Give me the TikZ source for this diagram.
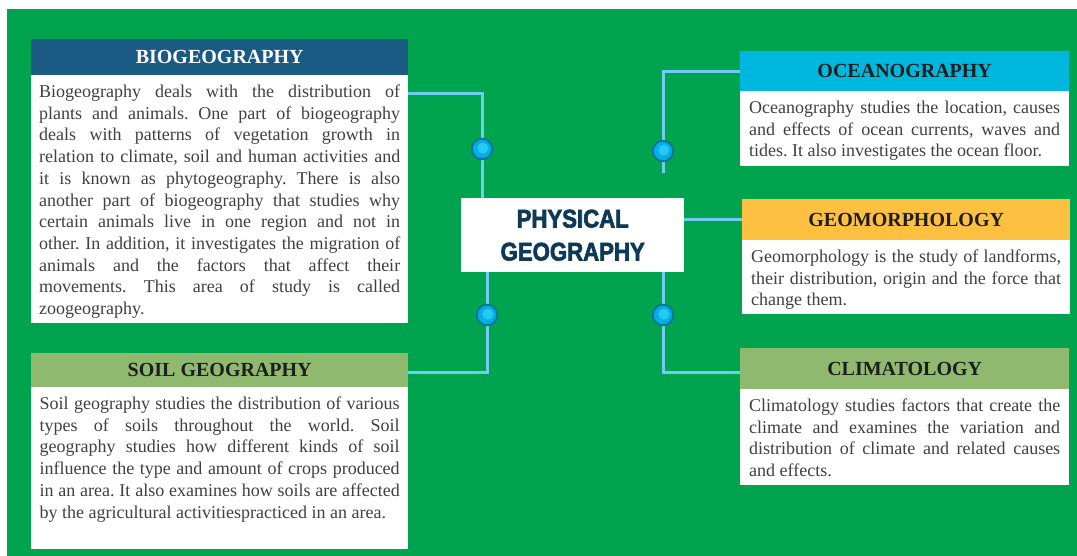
\documentclass[tikz,border=0pt]{standalone}
\usepackage{fontspec}
\setmainfont{Liberation Serif}
\newfontfamily\ctrfont{Liberation Sans}[UprightFont={* Bold}, FakeStretch=0.87, FakeBold=2.5]
\definecolor{bggreen}{RGB}{0,163,78}
\definecolor{bioc}{RGB}{27,90,130}
\definecolor{ocec}{RGB}{0,183,222}
\definecolor{geoc}{RGB}{253,192,64}
\definecolor{soilc}{RGB}{143,185,110}
\definecolor{connc}{RGB}{110,205,240}
\definecolor{txtc}{RGB}{64,64,64}
\definecolor{hdrtxt}{RGB}{30,30,30}
\definecolor{ctrtxt}{RGB}{14,58,88}
\definecolor{dotrim}{RGB}{20,110,160}
\definecolor{dotfill}{RGB}{0,176,226}
\definecolor{dotin}{RGB}{40,200,245}
\frenchspacing
\newcommand\jline[1]{\makebox[\linewidth][s]{#1}\\}
\newcommand\btext[3]{\parbox[t][#1][t]{#2}{\frenchspacing\fontsize{18}{21.7}\selectfont #3}}
\begin{document}
\begin{tikzpicture}[x=1pt,y=-1pt,
  hdr/.style={anchor=north west, inner sep=0pt, text=hdrtxt,
    font=\bfseries\fontsize{20}{24}\selectfont},
  bodybox/.style={anchor=north west, fill=white, text=txtc, inner xsep=8.5pt, inner ysep=9.7pt},
  ctrbox/.style={anchor=north west, fill=white, inner sep=0pt, align=center, text=ctrtxt,
    font=\ctrfont\fontsize{25.5}{33}\selectfont},
  conn/.style={draw=connc, line width=3pt},
  dot/.style={circle, inner sep=0pt, minimum size=20.5pt, fill=dotfill, draw=dotrim, line width=1.8pt,
    path picture={\fill[dotin] ([shift={(0.8pt,0.8pt)}]path picture bounding box.center) circle (5.5pt);}}
]
\useasboundingbox (0,0) rectangle (1077,556);
\fill[white] (0,0) rectangle (1077,556);
\fill[bggreen] (7,9) rectangle (1077,556);

% headers
\node[hdr, fill=bioc, text=white, minimum width=377pt, minimum height=36pt] (bioH) at (31,39) {BIOGEOGRAPHY};
\node[hdr, fill=soilc, minimum width=377pt, minimum height=34pt] (soilH) at (31,353) {SOIL GEOGRAPHY};
\node[hdr, fill=ocec, minimum width=329pt, minimum height=40pt] (oceH) at (740,51) {OCEANOGRAPHY};
\node[hdr, fill=geoc, minimum width=328pt, minimum height=41pt] (geoH) at (742,199) {GEOMORPHOLOGY};
\node[hdr, fill=soilc, minimum width=329pt, minimum height=41pt] (climH) at (740,348) {CLIMATOLOGY};

% bodies
\node[bodybox, inner xsep=8pt] (bioB) at (31,75) {\btext{228.6pt}{361pt}{%
\jline{Biogeography deals with the distribution of}
\jline{plants and animals. One part of biogeography}
\jline{deals with patterns of vegetation growth in}
\jline{relation to climate, soil and human activities and}
\jline{it is known as phytogeography. There is also}
\jline{another part of biogeography that studies why}
\jline{certain animals live in one region and not in}
\jline{other. In addition, it investigates the migration of}
\jline{animals and the factors that affect their}
\jline{movements. This area of study is called}
zoogeography.}};
\node[bodybox] (soilB) at (31,387) {\btext{142.6pt}{360pt}{%
\jline{Soil geography studies the distribution of various}
\jline{types of soils throughout the world. Soil}
\jline{geography studies how different kinds of soil}
\jline{influence the type and amount of crops produced}
\jline{in an area. It also examines how soils are affected}
by the agricultural activitiespracticed in an area.}};
\node[bodybox, inner xsep=9pt] (oceB) at (740,91) {\btext{55.6pt}{311pt}{%
\jline{Oceanography studies the location, causes}
\jline{and effects of ocean currents, waves and}
tides. It also investigates the ocean floor.}};
\node[bodybox, inner xsep=9pt] (geoB) at (742,240) {\btext{54.6pt}{310pt}{%
\jline{Geomorphology is the study of landforms,}
\jline{their distribution, origin and the force that}
change them.}};
\node[bodybox, inner xsep=9pt] (climB) at (740,389) {\btext{76.6pt}{311pt}{%
\jline{Climatology studies factors that create the}
\jline{climate and examines the variation and}
\jline{distribution of climate and related causes}
and effects.}};

% centre
\node[ctrbox, minimum width=223pt, minimum height=74pt] (ctr) at (461,198) {PHYSICAL\\GEOGRAPHY};

% connector points
\coordinate (p1) at (482,149);
\coordinate (p2) at (663,151);
\coordinate (p3) at (487,315);
\coordinate (p4) at (663,315);
\coordinate (bioP) at (408,94);
\coordinate (oceE) at (663,173);
\coordinate (soilP) at (408,372);
\coordinate (climP) at (740,372);

\draw[conn] (bioP) -| (ctr.north -| p1);
\draw[conn] (oceH.west) -| (oceE);
\draw[conn] (ctr.east |- geoH.west) -- (geoH.west);
\draw[conn] (ctr.south -| p3) |- (soilP);
\draw[conn] (ctr.south -| p4) |- (climP);

\node[dot] (d1) at (p1) {};
\node[dot] (d2) at (p2) {};
\node[dot] (d3) at (p3) {};
\node[dot] (d4) at (p4) {};
\end{tikzpicture}
\end{document}
